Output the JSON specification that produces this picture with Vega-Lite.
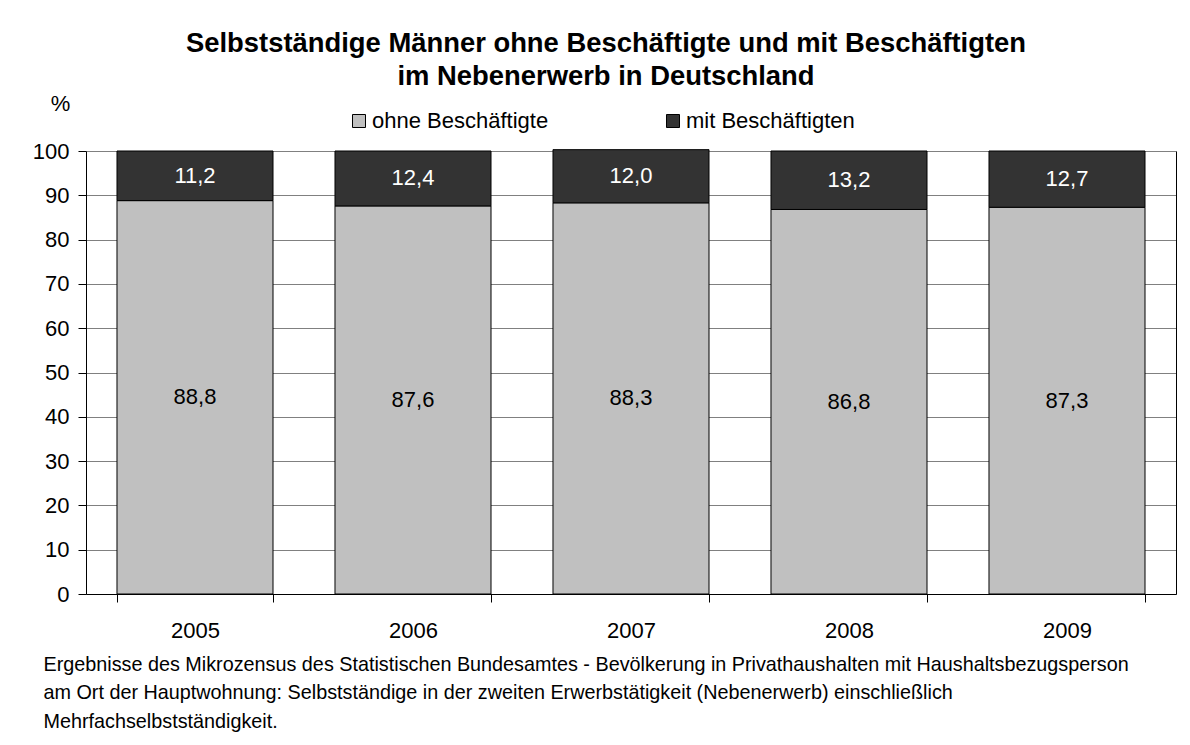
{
  "$schema": "https://vega.github.io/schema/vega-lite/v6.json",
  "width": 1090,
  "height": 443,
  "autosize": {"type": "none"},
  "padding": {"left": 86, "top": 151, "right": 14, "bottom": 151},
  "background": "white",
  "config": {
    "font": "Liberation Sans",
    "view": {"stroke": null},
    "locale": {"number": {"decimal": ",", "thousands": ".", "grouping": [3], "currency": ["", " €"]}}
  },
  "title": {
    "text": ["Selbstständige Männer ohne Beschäftigte und mit Beschäftigten", "im Nebenerwerb in Deutschland"],
    "fontSize": 27.4,
    "fontWeight": "bold",
    "color": "black",
    "anchor": "middle",
    "dx": -25,
    "offset": 2,
    "lineHeight": 33
  },
  "data": {
    "values": [
      {"year": "2005", "series": "ohne Beschäftigte", "value": 88.8},
      {"year": "2005", "series": "mit Beschäftigten", "value": 11.2},
      {"year": "2006", "series": "ohne Beschäftigte", "value": 87.6},
      {"year": "2006", "series": "mit Beschäftigten", "value": 12.4},
      {"year": "2007", "series": "ohne Beschäftigte", "value": 88.3},
      {"year": "2007", "series": "mit Beschäftigten", "value": 12.0},
      {"year": "2008", "series": "ohne Beschäftigte", "value": 86.8},
      {"year": "2008", "series": "mit Beschäftigten", "value": 13.2},
      {"year": "2009", "series": "ohne Beschäftigte", "value": 87.3},
      {"year": "2009", "series": "mit Beschäftigten", "value": 12.7}
    ]
  },
  "encoding": {
    "x": {
      "field": "year",
      "type": "nominal",
      "scale": {"paddingInner": 0.2844, "paddingOuter": 0.1422},
      "axis": {
        "labelAngle": 0,
        "labelFontSize": 22,
        "labelColor": "black",
        "labelPadding": 18,
        "tickBand": "extent",
        "tickSize": 8,
        "tickColor": "black",
        "domainColor": "black",
        "title": [
          "Ergebnisse des Mikrozensus des Statistischen Bundesamtes - Bevölkerung in Privathaushalten mit Haushaltsbezugsperson",
          "am Ort der Hauptwohnung: Selbstständige in der zweiten Erwerbstätigkeit (Nebenerwerb) einschließlich",
          "Mehrfachselbstständigkeit."
        ],
        "titleFontSize": 19.8,
        "titleFontWeight": "normal",
        "titleColor": "black",
        "titleAlign": "left",
        "titleAnchor": "start",
        "titleBaseline": "top",
        "titleLineHeight": 28.5,
        "titleX": -43,
        "titleY": 60,
        "titleLimit": 0
      }
    }
  },
  "layer": [
    {
      "mark": {"type": "bar", "stroke": "black", "strokeWidth": 1},
      "encoding": {
        "y": {
          "field": "value",
          "type": "quantitative",
          "stack": "zero",
          "scale": {"domain": [0, 100], "nice": false},
          "axis": {
            "values": [0, 10, 20, 30, 40, 50, 60, 70, 80, 90, 100],
            "orient": "left",
            "grid": true,
            "gridColor": "#808080",
            "gridWidth": 1,
            "domainColor": "black",
            "tickColor": "black",
            "tickSize": 8,
            "labelFontSize": 22,
            "labelColor": "black",
            "labelPadding": 9,
            "title": "%",
            "titleAngle": 0,
            "titleFontSize": 22,
            "titleFontWeight": "normal",
            "titleColor": "black",
            "titleAlign": "center",
            "titleBaseline": "middle",
            "titleX": -26,
            "titleY": -48
          }
        },
        "order": {"field": "series", "sort": "descending"},
        "color": {
          "field": "series",
          "type": "nominal",
          "scale": {"domain": ["ohne Beschäftigte", "mit Beschäftigten"], "range": ["#C0C0C0", "#333333"]},
          "legend": {
            "title": null,
            "orient": "none",
            "legendX": 262,
            "legendY": -41,
            "direction": "horizontal",
            "symbolType": "square",
            "symbolSize": 169,
            "symbolStrokeColor": "black",
            "symbolStrokeWidth": 1,
            "symbolOpacity": 1,
            "labelFontSize": 22,
            "labelColor": "black",
            "labelOffset": 2,
            "labelLimit": 0,
            "columnPadding": 113,
            "padding": 0
          }
        }
      }
    },
    {
      "transform": [
        {"stack": "value", "groupby": ["year"], "sort": [{"field": "series", "order": "descending"}], "as": ["v0", "v1"]},
        {"fold": ["v0", "v1"], "as": ["edge", "pos"]}
      ],
      "mark": {"type": "text", "fontSize": 22, "baseline": "middle"},
      "encoding": {
        "y": {
          "field": "pos",
          "type": "quantitative",
          "aggregate": "mean",
          "axis": {
            "orient": "right",
            "labels": false,
            "ticks": false,
            "grid": false,
            "domainColor": "black",
            "title": null
          }
        },
        "detail": {"field": "series", "type": "nominal"},
        "text": {"field": "value", "type": "quantitative", "aggregate": "max", "format": ".1f"},
        "color": {
          "condition": {"test": "datum.series === 'mit Beschäftigten'", "value": "white"},
          "value": "black"
        }
      }
    }
  ],
  "resolve": {"axis": {"y": "independent"}}
}
